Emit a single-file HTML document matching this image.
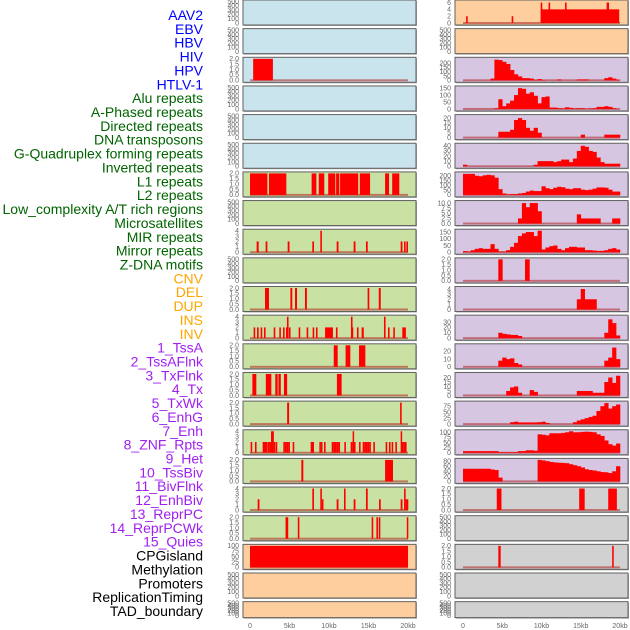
<!DOCTYPE html>
<html><head><meta charset="utf-8"><style>
html,body{margin:0;padding:0;background:#fff;width:630px;height:630px;overflow:hidden}
svg{display:block}
</style></head><body>
<svg id="chart" width="630" height="630" xmlns="http://www.w3.org/2000/svg" font-family="Liberation Sans, sans-serif"></svg>
<script>
// ---- data ----
const trackLabels = ["AAV2","EBV","HBV","HIV","HPV","HTLV-1","Alu repeats","A-Phased repeats","Directed repeats","DNA transposons","G-Quadruplex forming repeats","Inverted repeats","L1 repeats","L2 repeats","Low_complexity A/T rich regions","Microsatellites","MIR repeats","Mirror repeats","Z-DNA motifs","CNV","DEL","DUP","INS","INV","1_TssA","2_TssAFlnk","3_TxFlnk","4_Tx","5_TxWk","6_EnhG","7_Enh","8_ZNF_Rpts","9_Het","10_TssBiv","11_BivFlnk","12_EnhBiv","13_ReprPC","14_ReprPCWk","15_Quies","CPGisland","Methylation","Promoters","ReplicationTiming","TAD_boundary"];
const labelGroups = ["virus","virus","virus","virus","virus","virus","rep","rep","rep","rep","rep","rep","rep","rep","rep","rep","rep","rep","rep","sv","sv","sv","sv","sv","chr","chr","chr","chr","chr","chr","chr","chr","chr","chr","chr","chr","chr","chr","chr","oth","oth","oth","oth","oth"];
const xTicks = [0,5,10,15,20];
const xTickLabels = ["0","5kb","10kb","15kb","20kb"];

// left column: background groups, axis tops, tick values, segments [startKb,endKb,value]
const leftBg = ["b","b","b","b","b","b","g","g","g","g","g","g","g","g","g","g","g","g","g","o","o","o"];
const leftTop = [500,500,2,500,500,500,2,500,4,500,2,4,2,2,2,4,2,4,2,100,500,500];
const leftTicks = ["e","e","t2","e","e","e","t2","e","t4","e","t2","t4","t2","t2","t2","t4","t2","t4","t2","t100","e","e"];
const leftSegs = [
 [],[],
 [[0.4,2.9,2]],
 [],[],[],
 [[0,2.2,2],[2.4,4.6,2],[7.8,8.4,2],[8.7,9.4,2],[9.9,10.8,2],[10.9,11.3,2],[11.4,13.7,2],[13.9,15.2,2],[17.1,17.6,2],[18,18.9,2]],
 [],
 [[0.84,1.1,2],[1.98,2.2,2],[4.77,5.0,2],[7.89,8.1,2],[8.9,9.1,4],[10.97,11.2,2],[13.12,13.35,2],[14.68,14.9,2],[19.07,19.3,2],[19.5,19.7,2],[19.8,20.0,2]],
 [],
 [[1.9,2.4,2],[5.11,5.35,2],[5.7,5.95,2],[6.96,7.2,2],[14.89,15.1,2],[16.3,16.55,2]],
 [[0.46,0.66,2],[0.89,1.1,2],[1.35,1.55,2],[1.77,1.97,2],[3.0,3.2,2],[3.71,3.91,2],[4.18,4.38,2],[4.56,4.76,2],[4.68,4.88,4],[4.93,5.13,2],[6.16,6.36,2],[7.17,7.37,2],[7.93,8.13,2],[8.35,8.55,2],[9.5,10.5,2],[10.88,11.08,2],[12.78,12.98,4],[12.87,13.07,2],[13.54,13.74,2],[14.13,14.4,2],[16.96,17.16,4],[17.47,17.67,2],[18.14,18.34,2],[19.28,19.73,2]],
 [[10.6,11.1,2],[12.1,12.7,2],[13.8,14.6,2]],
 [[0.3,0.8,2],[2.0,2.7,2],[3.2,3.5,2],[3.6,3.9,2],[4.3,4.7,2],[11.0,11.6,2]],
 [[4.7,4.95,2],[19.0,19.2,2]],
 [[0.08,0.28,2],[0.63,0.83,2],[1.6,2.2,2],[2.24,2.45,2],[2.45,2.66,2],[2.66,2.83,4],[2.83,3.0,4],[3.0,3.2,2],[3.25,3.45,2],[4.22,4.42,2],[4.43,4.64,2],[4.64,4.85,2],[4.85,5.06,2],[5.4,5.6,2],[7.68,8.1,2],[8.78,8.98,2],[8.99,9.15,2],[9.37,9.57,2],[10.34,10.55,2],[10.55,10.76,2],[10.76,10.97,2],[10.97,11.18,2],[11.18,11.4,2],[11.94,12.14,2],[12.74,12.99,2],[12.99,13.16,4],[13.16,13.36,2],[13.8,14.0,2],[14.26,14.47,2],[14.47,14.68,2],[14.68,14.89,2],[14.89,15.1,2],[15.1,15.3,2],[15.61,15.81,2],[17.17,17.37,2],[17.59,17.79,2],[17.93,18.13,2],[18.4,18.6,2],[19.07,19.2,4],[19.2,19.41,2],[19.41,19.62,2],[19.62,19.82,2]],
 [[6.5,6.75,2],[17.1,18.1,2]],
 [[0.97,1.2,2],[7.89,8.1,4],[8.9,9.1,4],[9.1,9.3,2],[10.97,11.2,2],[11.9,12.1,4],[13.12,13.35,2],[14.68,14.9,4],[16.33,16.55,2],[19.07,19.3,2],[19.5,19.7,4],[19.7,19.85,2],[19.85,20.0,2]],
 [[4.5,4.65,2],[4.65,4.8,2],[6.05,6.25,2],[15.4,15.6,2],[16.0,16.2,2],[16.3,16.5,2],[19.85,20.0,2]],
 [[0,20,100]],
 [],[]
];

// right column: background groups, axis tops, tick values, 40 bins of 0.5kb or segments
const rightBg = ["o","o","p","p","p","p","p","p","p","p","p","p","p","p","p","p","p","g2","g2","g2","g2","g2"];
const rightTop = [6.3,500,250,155,22,42,225,10.5,160,2,4.2,40,28,24,90,105,85,2,500,2,500,500];
const rightTicks = [[0,2,4,6],null,[0,50,100,150,200],[0,50,100,150],[0,5,10,15,20],[0,10,20,30,40],[0,50,100,150,200],[0,2.5,5,7.5,10],[0,50,100,150],[0,0.5,1,1.5,2],[0,1,2,3,4],[0,10,20,30],[0,10,20],[0,5,10,15,20],[0,25,50,75],[0,25,50,75,100],[0,20,40,60,80],[0,0.5,1,1.5,2],null,[0,0.5,1,1.5,2],null,null];
const rightSegs = [
 [[0.4,0.6,2],[6.2,6.4,2],[9.9,19.9,4],[9.9,10.1,6],[10.9,11.1,6],[13.0,13.2,6],[18.3,18.6,6]],
 [],[],[],[],[],[],[],[],
 [[4.5,5.05,2],[7.9,8.5,2]],
 [],[],[],[],[],[],[],
 [[4.3,4.9,2],[14.8,15.5,2],[18.5,19.6,2]],
 [],
 [[4.5,4.8,2],[19.0,19.2,2]],
 [],[]
];
const rightBins = [
 null,null,
 [0,0,0,0,0,0,0,20,240,235,215,190,120,70,45,25,25,20,5,15,3,0,0,0,10,0,0,0,0,10,10,10,0,0,0,0,25,35,20,5],
 [0,0,0,0,0,0,0,0,5,70,20,40,60,100,150,145,110,120,95,40,85,90,10,10,5,3,12,8,3,5,5,0,3,5,15,15,20,15,5,0],
 [0,0,0,0,0,0,0,0,0,6,6,6,8,18,20,18,10,7,10,5,0,0,0,0,0,0,0,0,0,0,3,0,0,0,0,0,3,3,3,3],
 [3,0,0,0,0,0,0,0,0,0,0,0,0,0,0,0,0,0,3,10,10,10,10,8,10,13,13,8,15,30,40,38,30,28,17,8,5,5,5,5],
 [220,220,220,200,195,205,210,205,180,60,15,5,8,8,15,20,35,45,40,40,90,70,60,75,85,80,65,60,70,70,55,50,55,65,78,78,75,55,35,35],
 [0,0,0,0,0,0,0,0,0,0,0,0,0,0,2.5,10,8,10,10,6,0,0,0,0,0,0,0,0,0,4.5,2.5,2.5,2.5,2.5,2.5,0,0,0,2.5,2.5],
 [8,5,15,25,30,25,25,60,25,5,5,15,40,70,120,140,150,150,120,160,20,35,45,50,25,15,30,40,40,35,35,15,15,12,10,10,15,25,30,20],
 null,
 [0,0,0,0,0,0,0,0,0,0,0,0,0,0,0,0,0,0,0,0,0,0,0,0,0,0,0,0,0,2,4,2,2,2,0,0,0,0,0,0],
 [0,0,0,0,0,0,0,0,0,10,8,7,6,6,4,0,0,0,0,0,0,0,0,0,0,0,0,0,0,0,0,0,0,0,0,0,10,35,28,5],
 [0,0,0,0,0,0,0,0,0,8,12,10,11,5,3,0,0,0,0,0,0,0,0,0,0,0,0,0,0,0,0,0,0,0,0,0,8,12,25,10],
 [0,0,0,0,0,0,0,0,0,0,0,5,9,10,3,0,0,6,4,0,0,0,0,0,0,0,0,0,0,5,5,5,5,3,3,3,15,20,14,22],
 [0,0,0,0,0,0,0,0,0,0,0,0,8,10,7,7,7,7,7,8,10,5,0,0,0,0,0,0,8,15,20,25,30,35,55,75,88,65,75,82],
 [8,8,8,8,8,8,8,8,8,3,3,3,3,3,8,8,12,12,10,90,88,85,95,95,95,97,100,105,100,100,102,103,102,100,90,82,60,42,35,45],
 [50,50,50,50,50,50,50,47,45,15,0,0,0,0,0,0,0,0,0,85,83,80,77,75,74,73,72,68,64,60,55,48,45,43,40,37,36,33,40,60],
 null,null,null,null,null
];

// ---- drawing ----
const NS = "http://www.w3.org/2000/svg";
const svg = document.getElementById("chart");
const bgColors = {b:"#c9e4ec",g:"#c9e1a3",o:"#ffce9f",p:"#d6c6e2",g2:"#d1d1d1"};
const labelColors = {virus:"#0000ff",rep:"#006400",sv:"#ffa500",chr:"#a020f0",oth:"#000000"};
const ROW_PITCH = 28.65, ROW_H = 25;
const cols = [{x0:243,x1:416,d0:250,d1:408,tickX:239},{x0:455,x1:628,d0:463,d1:620,tickX:451}];

function el(tag, attrs, parent){const e=document.createElementNS(NS,tag);for(const k in attrs)e.setAttribute(k,attrs[k]);(parent||svg).appendChild(e);return e;}
function xScale(c,kb){return c.d0+(c.d1-c.d0)*kb/20;}
function rowTop(r){return r*ROW_PITCH;}
function rowH(r){return r===21?16:ROW_H;}
function yScale(r,top,v){const t=rowTop(r)+1.5, b=rowTop(r)+rowH(r)-2;return b-(b-t)*v/top;}
function fmt(v,step){return step<1||(step%1)?v.toFixed(1):String(v);}

// labels
trackLabels.forEach((t,i)=>{
  const e=el("text",{x:203,y:15+i*13.86+5,"text-anchor":"end","font-size":"14",fill:labelColors[labelGroups[i]]});
  e.textContent=t;
  
  
});

function drawTicks(c,r,top,vals,strs){
  vals.forEach((v,k)=>{
    const t=el("text",{x:c.tickX,y:yScale(r,top,v)+2.3,"text-anchor":"end","font-size":"7",fill:"#666"});
    t.textContent=strs[k];
    
    
  });
}
function emptyTicks(c,r){
  const vals=[0,100,200,300,400,500];
  drawTicks(c,r,500,vals,vals.map(String));
}

function drawPanel(ci,r,bg,top,tickVals,segs,bins){
  const c=cols[ci], y=rowTop(r), h=rowH(r);
  const g=el("g",{});
  
  
  el("rect",{x:c.x0+1,y:y+1,width:c.x1-c.x0,height:h,fill:"#aaa"},g);
  const fr=el("rect",{x:c.x0,y:y,width:c.x1-c.x0,height:h,fill:bgColors[bg],stroke:"#606060","stroke-width":"1"},g);
  
  
  const hasData=(segs&&segs.length)||(bins&&bins.some(v=>v>0));
  if(!tickVals){emptyTicks(c,r);return;}
  const step=tickVals[1]-tickVals[0];
  drawTicks(c,r,top,tickVals,tickVals.map(v=>fmt(v,step)));
  const base=yScale(r,top,0);
  if(hasData){
    el("rect",{x:xScale(c,0),y:base-1,width:xScale(c,20)-xScale(c,0),height:2,fill:"#b02020","fill-opacity":"0.55"},g);
  }
  if(bins){
    bins.forEach((v,k)=>{
      if(v<=0)return;
      const x0=xScale(c,k*0.5), x1=xScale(c,(k+1)*0.5), yy=yScale(r,top,Math.min(v,top));
      const b=el("rect",{x:x0,y:yy,width:x1-x0+0.3,height:base-yy,fill:"#ff0000"},g);
      
      
    });
  }
  if(segs){
    segs.forEach(s=>{
      const x0=xScale(c,s[0]), x1=xScale(c,s[1]), yy=yScale(r,top,Math.min(s[2],top));
      const b=el("rect",{x:x0,y:yy,width:Math.max(1.5,x1-x0),height:base-yy,fill:"#ff0000"},g);
      
      
    });
  }
}

const tickSets={t2:[0,0.5,1,1.5,2],t4:[0,1,2,3,4],t100:[0,25,50,75,100]};
for(let r=0;r<22;r++){
  drawPanel(0,r,leftBg[r],leftTop[r],leftTicks[r]==="e"?null:tickSets[leftTicks[r]],leftSegs[r],null);
  drawPanel(1,r,rightBg[r],rightTop[r],rightTicks[r],rightSegs[r],rightBins[r]);
}

// x axes
cols.forEach((c,ci)=>{
  xTicks.forEach((v,k)=>{
    const t=el("text",{x:xScale(c,v),y:628,"text-anchor":"middle","font-size":"7",fill:"#666"});
    t.textContent=xTickLabels[k];
    
    
  });
});
</script>
</body></html>
